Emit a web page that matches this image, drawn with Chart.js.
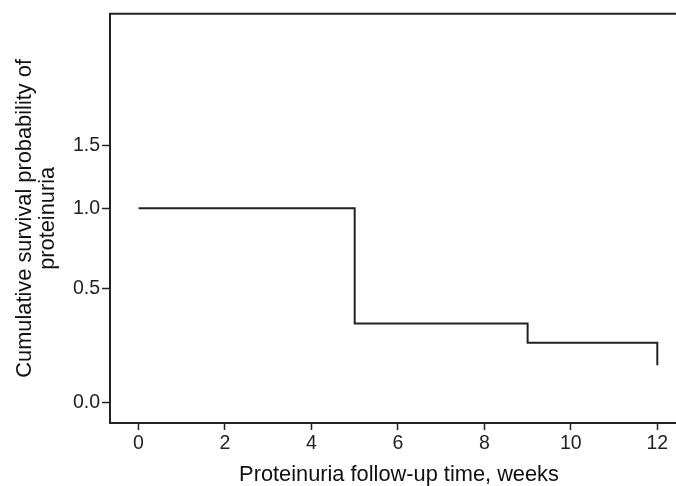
<!DOCTYPE html>
<html>
<head>
<meta charset="utf-8">
<script src="https://cdn.jsdelivr.net/npm/chart.js@4"></script>
<style>
  html, body { margin: 0; padding: 0; background: #fff; overflow: hidden; }
  #wrap { width: 688px; height: 486px; }
</style>
</head>
<body>
<div id="wrap"><canvas id="kmChart"></canvas></div>
<script>
'use strict';

/* Kaplan-Meier curve: proteinuria follow-up */
const weeks = [0, 5, 9, 12];
const survival = [1.0, 0.326, 0.238, 0.143];

const xTickValues = [0, 2, 4, 6, 8, 10, 12];
const yTickValues = [0.0, 0.5, 1.0, 1.5];

// the y axis of the original is spaced as log(1 + p)
const toAxis = v => Math.log(1 + v);

const FONT = 'Arial, "Liberation Sans", Helvetica, sans-serif';
const INK = '#222';

// top frame line (the original box has no right edge in view)
const topFrame = {
    id: 'topFrame',
    afterDraw(chart) {
        const { ctx, chartArea } = chart;
        ctx.save();
        ctx.strokeStyle = INK;
        ctx.lineWidth = 2;
        ctx.beginPath();
        ctx.moveTo(chartArea.left - 1, chartArea.top);
        ctx.lineTo(chartArea.right, chartArea.top);
        ctx.stroke();
        ctx.restore();
    },
};

new Chart(document.getElementById('kmChart').getContext('2d'), {
    type: 'line',
    data: {
        datasets: [{
            label: 'Survival',
            data: weeks.map((w, i) => ({ x: w, y: toAxis(survival[i]) })),
            stepped: true,
            borderColor: INK,
            borderWidth: 2,
            pointRadius: 0,
            fill: false,
        }],
    },
    options: {
        responsive: true,
        maintainAspectRatio: false,
        animation: false,
        layout: { padding: { top: 13, right: 0, bottom: 0, left: 0 } },
        plugins: { legend: { display: false }, tooltip: { enabled: false } },
        scales: {
            x: {
                type: 'linear',
                min: -0.66,
                max: 12.71,
                afterBuildTicks: s => { s.ticks = xTickValues.map(v => ({ value: v })); },
                afterFit: s => { s.height = 63; },
                ticks: { color: INK, font: { family: FONT, size: 19.5 }, padding: 2, maxRotation: 0 },
                grid: { drawOnChartArea: false, tickLength: 7, color: INK, tickWidth: 1.5 },
                border: { color: INK, width: 2 },
                title: {
                    display: true,
                    text: 'Proteinuria follow-up time, weeks',
                    color: '#111',
                    font: { family: FONT, size: 21.8, lineHeight: 1.0 },
                    padding: { top: 0, bottom: 0 },
                },
            },
            y: {
                type: 'linear',
                min: toAxis(-0.07),
                max: toAxis(3.0),
                afterBuildTicks: s => { s.ticks = yTickValues.map(v => ({ value: toAxis(v) })); },
                afterFit: s => { s.width = 110; },
                ticks: {
                    color: INK,
                    font: { family: FONT, size: 19.5 },
                    padding: 2,
                    callback: (v, i) => yTickValues[i].toFixed(1),
                },
                grid: { drawOnChartArea: false, tickLength: 8, color: INK, tickWidth: 1.5 },
                border: { color: INK, width: 2 },
                title: {
                    display: true,
                    text: ['Cumulative survival probability of', 'proteinuria'],
                    color: '#111',
                    font: { family: FONT, size: 21.8, lineHeight: 1.05 },
                    padding: { top: 14, bottom: 0 },
                },
            },
        },
    },
    plugins: [topFrame],
});
</script>
</body>
</html>
